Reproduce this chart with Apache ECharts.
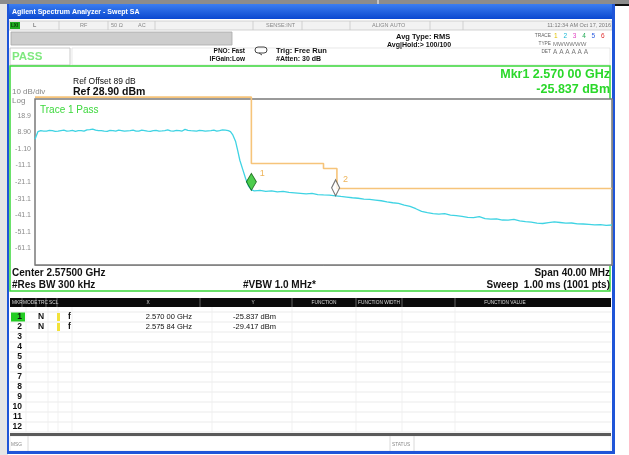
<!DOCTYPE html>
<html><head><meta charset="utf-8">
<script src="https://cdn.jsdelivr.net/npm/echarts@6/dist/echarts.min.js"></script>
<style>html,body{margin:0;padding:0;background:#fff;overflow:hidden}#c{width:629px;height:455px}</style>
</head><body><div id="c"></div>
<script>
// ---- chart values ----
const centerMHz = 2575.0;
const spanMHz = 40;
const refLevel = 28.9;
const yTickLabels = ['', '18.9', '8.90', '-1.10', '-11.1', '-21.1', '-31.1', '-41.1', '-51.1', '-61.1', ''];
const traceFreqMHz = [
 2555.0,2555.2,2555.4,2555.6,2555.8,2556.0,2556.2,2556.4,2556.6,2556.8,2557.0,2557.2,2557.4,2557.6,
 2557.8,2558.0,2558.2,2558.4,2558.6,2558.8,2559.0,2559.2,2559.4,2559.6,2559.8,2560.0,2560.2,2560.4,
 2560.6,2560.8,2561.0,2561.2,2561.4,2561.6,2561.8,2562.0,2562.2,2562.4,2562.6,2562.8,2563.0,2563.2,
 2563.4,2563.6,2563.8,2564.0,2564.2,2564.4,2564.6,2564.8,2565.0,2565.2,2565.4,2565.6,2565.8,2566.0,
 2566.2,2566.4,2566.6,2566.8,2567.0,2567.2,2567.4,2567.6,2567.8,2568.0,2568.2,2568.4,
 2568.55,2568.7,2568.9,2569.05,2569.2,2569.4,2569.6,2569.8,
 2570.0,2570.2,2570.6,2571.0,2571.4,2571.8,2572.2,2572.6,2573.0,2573.4,2573.8,2574.2,2574.6,
 2575.0,2575.4,2575.84,2576.2,2576.6,2577.0,2577.4,2577.8,2578.2,2578.6,2579.0,2579.4,2579.8,2580.2,
 2580.6,2581.0,2581.4,2581.8,2582.2,2582.6,2583.0,2583.4,2583.8,2584.2,2584.6,2585.0,2585.4,2585.8,
 2586.2,2586.6,2587.0,2587.4,2587.8,2588.2,2588.6,2589.0,2589.4,2589.8,2590.2,2590.6,2591.0,2591.4,
 2591.8,2592.2,2592.6,2593.0,2593.4,2593.8,2594.2,2594.6,2595.0];
const traceDbm = [
 4.6,9.2,9.8,9.6,9.5,10.0,9.9,9.4,9.6,9.9,10.1,9.5,9.7,10.0,
 9.4,9.8,9.9,9.5,10.3,10.5,10.8,10.1,9.8,9.9,9.6,9.4,10.0,9.8,
 9.5,10.1,9.9,9.5,9.7,9.9,10.2,9.6,9.6,10.1,9.8,9.5,9.4,9.9,
 10.0,9.6,9.7,9.9,10.3,9.7,9.6,10.0,9.9,9.6,10.6,10.0,9.8,9.7,
 9.5,10.0,9.9,9.5,9.7,9.9,10.2,9.6,9.9,10.3,10.1,9.8,
 9.3,7.5,3.5,-2.0,-8.0,-13.5,-19.0,-23.5,
 -25.8,-26.4,-26.2,-26.8,-26.5,-27.1,-26.7,-27.4,-27.6,-27.9,-28.3,-28.0,-28.7,
 -28.9,-29.0,-29.4,-29.8,-30.2,-30.6,-30.9,-31.4,-31.6,-32.0,-32.4,-33.1,-33.6,-34.0,
 -35.0,-35.8,-37.2,-38.8,-39.6,-40.1,-40.5,-40.2,-41.0,-41.3,-41.8,-42.4,-42.6,-42.0,
 -43.2,-43.5,-43.3,-44.0,-44.1,-43.6,-44.5,-45.0,-45.3,-45.9,-46.1,-45.6,-45.1,-45.5,
 -45.9,-45.8,-46.3,-46.4,-46.6,-46.9,-46.8,-47.2,-47.0];
const limitFreqMHz = [2555.0, 2570.0, 2570.0, 2575.0, 2575.0, 2575.93, 2575.93, 2595.0];
const limitDbm = [30, 30, -10, -10, -13, -13, -25, -25];
const markerNames = ['1', '2'];
const markerFreqMHz = [2570.00, 2575.84];
const markerDbm = [-25.837, -29.417];
const markerXText = ['2.570 00 GHz', '2.575 84 GHz'];
const markerYText = ['-25.837 dBm', '-29.417 dBm'];
const tableHeaders = ['MKR', 'MODE', 'TRC', 'SCL', 'X', 'Y', 'FUNCTION', 'FUNCTION WIDTH', 'FUNCTION VALUE'];
const rowNumbers = ['1','2','3','4','5','6','7','8','9','10','11','12'];

// ---- drawing ----
const F = '"Liberation Sans", Arial, sans-serif';
const G = [];
function rect(x, y, w, h, fill, stroke, lw, z) {
  G.push({type:'rect', silent:true, z: z == null ? -5 : z, shape:{x, y, width:w, height:h},
    style:{fill: fill || 'none', stroke: stroke || null, lineWidth: lw || 1}});
}
function line(x1, y1, x2, y2, color, lw, z) {
  G.push({type:'line', silent:true, z: z == null ? -4 : z, shape:{x1, y1, x2, y2},
    style:{stroke: color, lineWidth: lw || 1}});
}
function txt(x, y, s, size, o) {
  o = o || {};
  G.push({type:'text', silent:true, z: 50, x, y, style:{
    text: s, font: (o.bold ? 'bold ' : '') + size + 'px ' + (o.font || F),
    fill: o.color || '#111', align: o.align || 'left', verticalAlign: 'middle',
    textAlign: o.align || 'left', textVerticalAlign: 'middle'}});
}

// page / window chrome
rect(0, 0, 629, 455, '#ffffff');
rect(0, 0, 8, 455, '#e6e6e6');
rect(0, 0, 629, 4, '#8c8c8c');
line(378, 0, 378, 4, '#ffffff', 1);
rect(610, 4, 19, 2, '#111111');
G.push({type:'rect', silent:true, z:-5, shape:{x:7, y:4, width:606, height:15},
  style:{fill:{type:'linear', x:0, y:0, x2:0, y2:1, colorStops:[{offset:0, color:'#3c7ef0'},{offset:1, color:'#0a48d0'}]}}});
txt(12, 12, 'Agilent Spectrum Analyzer - Swept SA', 7, {bold:true, color:'#ffffff'});
rect(7, 4, 2, 450, '#1f55d8', null, 1, -3);
rect(612, 4, 3, 450, '#1f55d8', null, 1, -3);
rect(7, 451, 608, 3, '#1f55d8', null, 1, -3);
rect(9, 19, 603, 432, '#ffffff');

// status row
rect(9, 21, 603, 9, '#f2f2f2', '#c8c8c8', 0.8);
rect(10, 22, 10, 7, '#1faa1f');
txt(11, 25.5, 'LXI', 4.5, {color:'#0a3a0a', bold:true});
[59, 108, 155, 253, 302, 350, 430, 463].forEach(x => line(x, 21, x, 30, '#c8c8c8', 0.8));
txt(33, 25.5, 'L', 6, {color:'#555'});
txt(80, 25.5, 'RF', 5.5, {color:'#888'});
txt(111, 25.5, '50 Ω', 5.5, {color:'#888'});
txt(138, 25.5, 'AC', 5.5, {color:'#888'});
txt(266, 25.5, 'SENSE:INT', 5.5, {color:'#888'});
txt(372, 25.5, 'ALIGN AUTO', 5.5, {color:'#888'});
txt(611, 25.5, '11:12:34 AM Oct 17, 2016', 5.5, {color:'#777', align:'right'});

// second row
rect(11, 32, 221, 13, '#cdcdcd', '#a8a8a8', 0.8);
rect(10, 48, 60, 17, '#ffffff', '#bdbdbd', 0.8);
rect(72, 48, 538, 17, '#ffffff', '#d8d8d8', 0.6);
txt(12, 57, 'PASS', 11.5, {bold:true, color:'#7fe87f'});
txt(245, 51, 'PNO: Fast', 6.5, {bold:true, align:'right'});
txt(245, 59, 'IFGain:Low', 6.5, {bold:true, align:'right'});
G.push({type:'rect', silent:true, z:-2, shape:{x:255, y:47, width:12, height:6, r:3}, style:{fill:'none', stroke:'#444', lineWidth:1}});
line(259, 53, 262, 55, '#444', 1, -2);
txt(276, 50.5, 'Trig: Free Run', 7.5, {bold:true});
txt(276, 59, '#Atten: 30 dB', 7, {bold:true});
txt(396, 37, 'Avg Type: RMS', 7.5, {bold:true});
txt(387, 45.5, 'Avg|Hold:> 100/100', 7, {bold:true});
txt(551, 36, 'TRACE', 4.8, {color:'#666', align:'right'});
txt(551, 44, 'TYPE', 4.8, {color:'#666', align:'right'});
txt(551, 52, 'DET', 4.8, {color:'#666', align:'right'});
const traceDigitColors = ['#e0c000', '#19b7d6', '#e040c0', '#22aa55', '#3060e0', '#e03030'];
traceDigitColors.forEach((c, i) => txt(554 + i * 9.4, 36, String(i + 1), 6.5, {color:c}));
txt(553, 44, 'MWWWWW', 6, {color:'#777'});
txt(553, 52, 'A A A A A A', 6.5, {color:'#777'});

// display frame
rect(10, 66, 600, 225, 'none', '#3ad83a', 1.5, -2);
txt(610, 75, 'Mkr1 2.570 00 GHz', 12.5, {bold:true, color:'#2ad82a', align:'right'});
txt(610, 90, '-25.837 dBm', 12.5, {bold:true, color:'#2ad82a', align:'right'});
txt(73, 82, 'Ref Offset 89 dB', 8.5);
txt(73, 92.5, 'Ref 28.90 dBm', 10.5, {bold:true});
txt(12, 92, '10 dB/div', 8, {color:'#888'});
txt(12, 100.5, 'Log', 8, {color:'#888'});
txt(40, 110, 'Trace 1 Pass', 10, {color:'#3cd83c'});
txt(12, 273, 'Center 2.57500 GHz', 10, {bold:true});
txt(12, 285.5, '#Res BW 300 kHz', 10, {bold:true});
txt(243, 285.5, '#VBW 1.0 MHz*', 10, {bold:true});
txt(610, 273, 'Span 40.00 MHz', 10, {bold:true, align:'right'});
txt(610, 285.5, 'Sweep  1.00 ms (1001 pts)', 10, {bold:true, align:'right'});

// marker table
rect(10, 298, 601, 9, '#0a0a0a', null, 1, -3);
const headerX = [12, 23, 38, 49, 148, 253, 324, 379, 505];
const headerAlign = ['left','left','left','left','center','center','center','center','center'];
tableHeaders.forEach((h, i) => txt(headerX[i], 302.5, h, 4.8, {color:'#d8d8d8', align: headerAlign[i]}));
[22, 36, 46, 57, 200, 292, 356, 402, 455].forEach(x => line(x, 298, x, 307, '#777', 0.8, -2));
for (let i = 0; i < 13; i++) line(10, 312 + i * 10, 611, 312 + i * 10, '#e6e6e6', 0.8);
[26, 48, 58, 72, 212, 292, 356, 402, 455].forEach(x => line(x, 307, x, 432, '#ededed', 0.8));
rect(11, 312.5, 14, 9, '#22cc22', null, 1, -3);
rowNumbers.forEach((n, i) => txt(22, 317 + i * 10, n, 8.5, {bold:true, align:'right'}));
markerNames.forEach((m, i) => {
  const y = 317 + i * 10;
  txt(38, y, 'N', 8.5, {bold:true});
  rect(57, y - 4, 3, 8, '#f2e23a', null, 1, -3);
  txt(68, y, 'f', 8.5, {bold:true});
  txt(192, y, markerXText[i], 7.5, {align:'right'});
  txt(276, y, markerYText[i], 7.5, {align:'right'});
});
rect(10, 433, 601, 3, '#5a5a5a', null, 1, -3);
rect(10, 436, 601, 15, '#ffffff', '#dddddd', 0.6);
line(28, 436, 28, 451, '#d0d0d0', 0.8);
line(390, 436, 390, 451, '#d0d0d0', 0.8);
line(414, 436, 414, 451, '#d0d0d0', 0.8);
txt(11, 445, 'MSG', 4.8, {color:'#888'});
txt(392, 445, 'STATUS', 4.8, {color:'#888'});

// ---- series data ----
const traceData = traceFreqMHz.map((f, i) => [f - centerMHz, traceDbm[i] - refLevel]);
const limitData = limitFreqMHz.map((f, i) => [f - centerMHz, limitDbm[i] - refLevel]);
const markerData = markerFreqMHz.map((f, i) => ({
  value: [f - centerMHz, markerDbm[i] - refLevel], name: markerNames[i],
  itemStyle: i === 0 ? {color:'#22c022', borderColor:'#0d5a0d', borderWidth:1}
                     : {color:'#ffffff', borderColor:'#555555', borderWidth:1.2},
  symbolSize: i === 0 ? [10, 17] : [8, 16]
}));

const chart = echarts.init(document.getElementById('c'), null, {renderer:'canvas'});
chart.setOption({
  animation: false,
  backgroundColor: 'transparent',
  graphic: {elements: G},
  grid: {left: 35, top: 99, width: 577, height: 166, show: true, backgroundColor: '#ffffff',
         borderColor: '#7a7a7a', borderWidth: 1.5, z: 1},
  xAxis: {type: 'value', min: -spanMHz / 2, max: spanMHz / 2, interval: spanMHz / 10,
    axisLine: {show: false}, axisTick: {show: false}, axisLabel: {show: false},
    splitLine: {show: true, lineStyle: {color: '#a9a9a9', width: 1}}},
  yAxis: {type: 'value', min: -100, max: 0, interval: 10,
    axisLine: {show: false}, axisTick: {show: false},
    axisLabel: {show: true, margin: 4, fontSize: 7, color: '#8a8a8a', fontFamily: F,
      formatter: v => yTickLabels[Math.round(-v / 10)] || ''},
    splitLine: {show: true, lineStyle: {color: '#a9a9a9', width: 1}}},
  series: [
    {type: 'line', data: limitData, showSymbol: false, clip: false, z: 3,
     lineStyle: {color: '#f6c47a', width: 1.6}, silent: true},
    {type: 'line', data: traceData, showSymbol: false, z: 4,
     lineStyle: {color: '#3fd3e3', width: 1.3}, silent: true},
    {type: 'scatter', data: markerData, symbol: 'diamond', symbolOffset: [0, -8], z: 6, silent: true,
     label: {show: true, position: 'right', offset: [-2, -8], formatter: p => p.name,
       color: '#e8a030', fontSize: 9, fontFamily: F}}
  ]
});
</script></body></html>
